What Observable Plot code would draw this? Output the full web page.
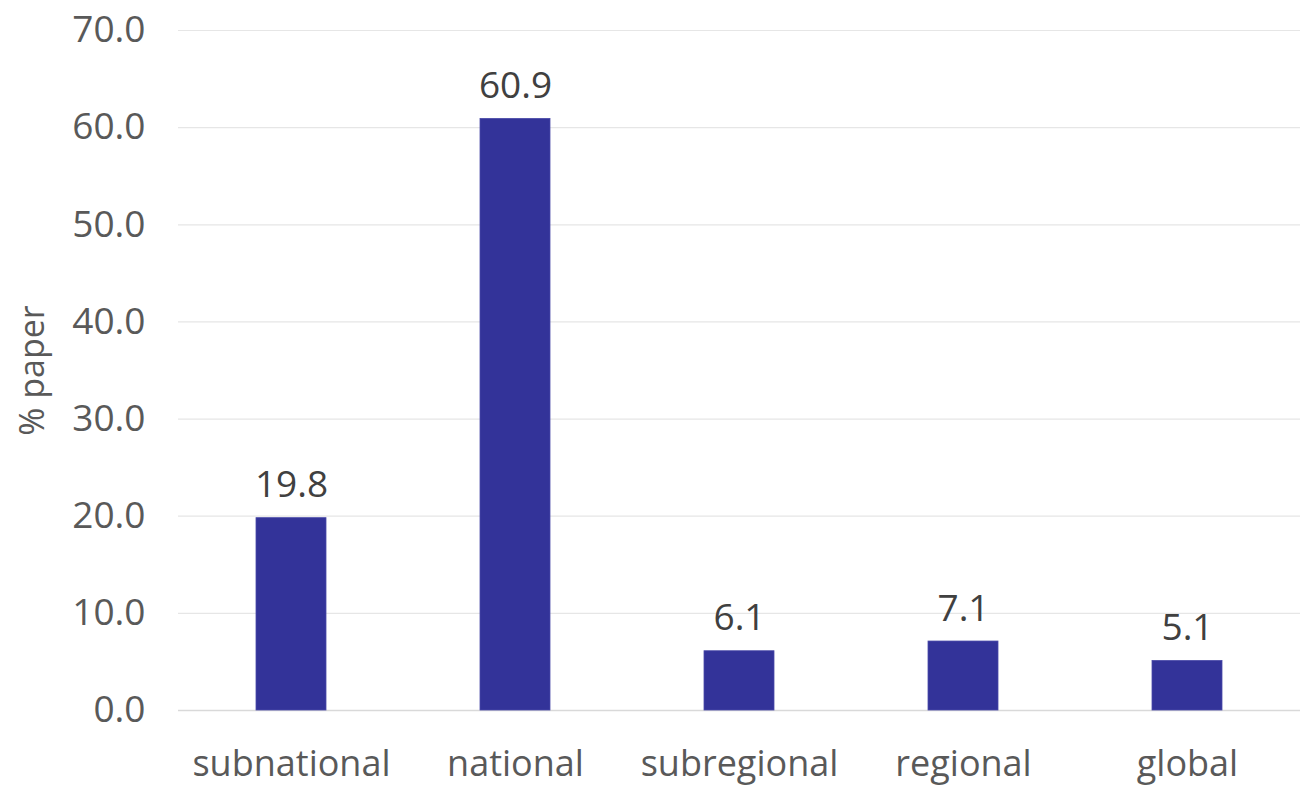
<!DOCTYPE html>
<html>
<head>
<meta charset="utf-8">
<script src="https://cdn.jsdelivr.net/npm/d3@7"></script>
<script src="https://cdn.jsdelivr.net/npm/@observablehq/plot@0.6"></script>
<style>
  html, body { margin: 0; padding: 0; background: #fff; }
  #chart svg { display: block; }
</style>
</head>
<body>
<div id="chart"></div>
<script>
const categories = ["subnational", "national", "subregional", "regional", "global"];
const values = [19.8, 60.9, 6.1, 7.1, 5.1];
const yTicks = [0, 10, 20, 30, 40, 50, 60, 70];
const yLabel = "% paper";

const data = categories.map((c, i) => ({category: c, value: values[i]}));

const chart = Plot.plot({
  width: 1301,
  height: 787,
  marginLeft: 178,
  marginRight: 1,
  marginTop: 30,
  marginBottom: 77,
  style: {fontFamily: "'Open Sans', sans-serif", background: "#fff"},
  x: {domain: categories, paddingInner: 0.688, paddingOuter: 0.344, label: null},
  y: {domain: [0, 70], label: null},
  marks: [
    Plot.gridY(yTicks, {stroke: "#e6e6e6", strokeOpacity: 1, strokeWidth: 1.2}),
    Plot.ruleY([0], {stroke: "#d9d9d9", strokeWidth: 1.5}),
    Plot.barY(data, {x: "category", y: "value", fill: "#333399", stroke: "#4a4aa8", strokeWidth: 0.8}),
    Plot.text(data, {x: "category", y: "value", text: d => d.value.toFixed(1), dy: -21, lineAnchor: "bottom", fontSize: 37, fill: "#404040"}),
    Plot.axisY(yTicks, {tickSize: 0, tickPadding: 33, tickFormat: d3.format(".1f"), fontSize: 37, fill: "#595959", label: null}),
    Plot.axisX({tickSize: 0, tickPadding: 40, fontSize: 36, fill: "#595959", label: null}),
    Plot.text([yLabel], {frameAnchor: "left", dx: -145, rotate: -90, textAnchor: "middle", fontSize: 34, fill: "#595959", text: d => d})
  ]
});
document.getElementById("chart").appendChild(chart);
</script>
</body>
</html>
